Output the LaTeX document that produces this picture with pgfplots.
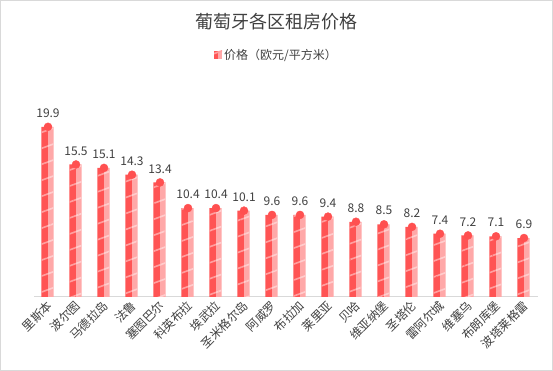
\documentclass[border=0pt]{standalone}
\usepackage{pgfplots}
\pgfplotsset{compat=1.18}
\usepackage{fontspec}
\setmainfont{Noto Sans CJK SC}
\usetikzlibrary{patterns.meta}
\definecolor{darkbar}{RGB}{255,84,84}
\definecolor{lightbar}{RGB}{255,168,168}
\definecolor{dot}{RGB}{255,80,80}
\definecolor{txt}{RGB}{64,64,64}
\definecolor{grid}{RGB}{217,217,217}
\begin{document}
\begin{tikzpicture}
\path[use as bounding box] (0pt,0pt) rectangle (553pt,371pt);
\draw[grid, line width=1pt] (0.5pt,0.5pt) rectangle (552.5pt,370.5pt);
\node[txt, font=\fontsize{18}{20}\selectfont] at (276.5pt,349pt) {葡萄牙各区租房价格};
\begin{axis}[
  at={(48pt,74pt)}, anchor=origin,
  scale only axis, width=504pt, height=213.75pt,
  xmin=-0.5, xmax=17.5, ymin=0, ymax=25,
  axis y line=none,
  axis x line*=bottom,
  x axis line style={grid, line width=1pt, -},
  xtick={0,...,17},
  xticklabels={里斯本,波尔图,马德拉岛,法鲁,塞图巴尔,科英布拉,埃武拉,圣米格尔岛,阿威罗,布拉加,莱里亚,贝哈,维亚纳堡,圣塔伦,雷阿尔城,维塞乌,布朗库堡,波塔莱格雷},
  xticklabel style={rotate=45, anchor=east, font=\fontsize{12}{14}\selectfont, text=txt, inner sep=1pt, yshift=-6pt, xshift=-2pt},
  major tick length=0pt,
  clip=false,
  legend style={at={(0.481,1.133)}, anchor=center, draw=none, fill=none, font=\fontsize{12}{14}\selectfont, text=txt},
  legend image code/.code={\fill[darkbar] (0pt,-4pt) rectangle (4pt,4pt); \fill[lightbar] (4pt,-4pt) rectangle (8pt,4pt);},
]
\addplot[ybar, bar width=6.6pt, bar shift=-3.3pt, fill=darkbar, draw=none,
  postaction={pattern={Lines[angle=20,distance=15pt,line width=1.6pt]}, pattern color={rgb,255:red,255;green,160;blue,160}}]
coordinates {(0,19.9)(1,15.5)(2,15.1)(3,14.3)(4,13.4)(5,10.4)(6,10.4)(7,10.1)(8,9.6)(9,9.6)(10,9.4)(11,8.8)(12,8.5)(13,8.2)(14,7.4)(15,7.2)(16,7.1)(17,6.9)};
\addlegendentry{价格（欧元/平方米）}
\addplot[ybar, bar width=5.7pt, bar shift=2.85pt, fill=lightbar, draw=none, forget plot,
  postaction={pattern={Lines[angle=20,distance=15pt,line width=1.6pt]}, pattern color={rgb,255:red,255;green,205;blue,205}}]
coordinates {(0,19.9)(1,15.5)(2,15.1)(3,14.3)(4,13.4)(5,10.4)(6,10.4)(7,10.1)(8,9.6)(9,9.6)(10,9.4)(11,8.8)(12,8.5)(13,8.2)(14,7.4)(15,7.2)(16,7.1)(17,6.9)};
\addplot[only marks, mark=*, mark size=4pt, color=dot, forget plot,
  point meta=explicit symbolic,
  nodes near coords, nodes near coords style={anchor=south, inner sep=0pt, yshift=9pt, text=txt, font=\fontsize{12}{14}\selectfont}]
coordinates {(0,19.9)[19.9](1,15.5)[15.5](2,15.1)[15.1](3,14.3)[14.3](4,13.4)[13.4](5,10.4)[10.4](6,10.4)[10.4](7,10.1)[10.1](8,9.6)[9.6](9,9.6)[9.6](10,9.4)[9.4](11,8.8)[8.8](12,8.5)[8.5](13,8.2)[8.2](14,7.4)[7.4](15,7.2)[7.2](16,7.1)[7.1](17,6.9)[6.9]};
\end{axis}
\end{tikzpicture}
\end{document}
